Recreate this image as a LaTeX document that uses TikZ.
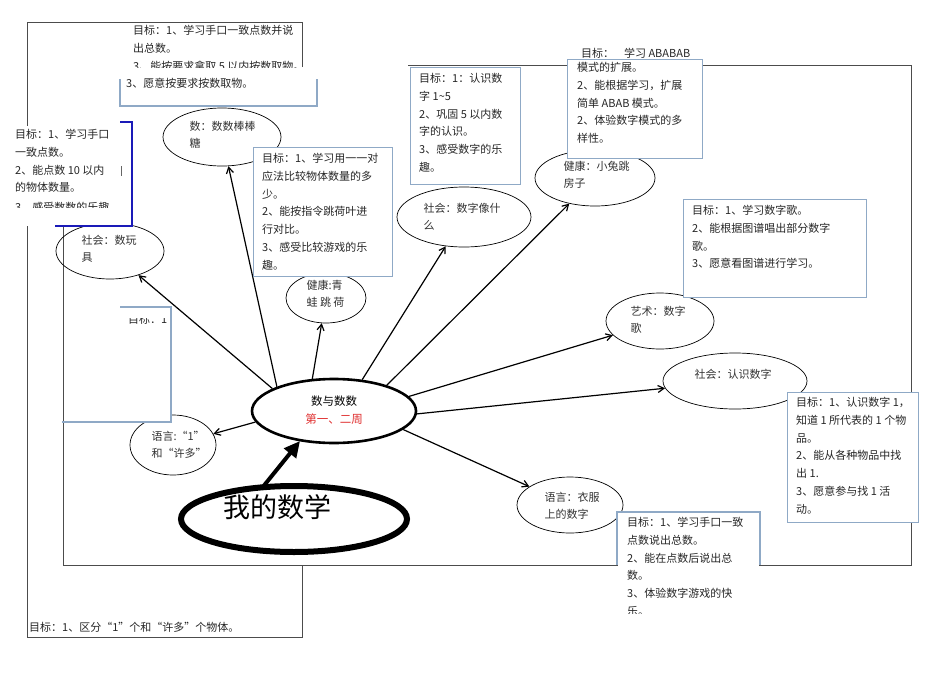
\documentclass[tikz,border=0pt]{standalone}
\usepackage{fontspec}
\setmainfont{Liberation Serif}
\newfontfamily\cjk{Noto Sans CJK SC}
\usetikzlibrary{arrows.meta,shapes.geometric}
\definecolor{bx}{HTML}{8FA9C6}
\definecolor{dkb}{HTML}{1A1AB8}
\definecolor{rd}{HTML}{E03030}
\tikzset{
 ell/.style={draw, ellipse, inner sep=0pt, line width=0.7pt},
 lab/.style={font=\cjk\fontsize{11}{17}\selectfont, align=left, text=black!80},
 goal/.style={draw=bx, fill=white, line width=1.2pt, rectangle, inner sep=0pt, anchor=north west},
 gt/.style={font=\cjk\fontsize{11}{17.8}\selectfont, align=left, anchor=north west, inner sep=0pt, text=black!85},
 arr/.style={-{Straight Barb[length=6pt,width=7pt]}, line width=1.2pt},
 frame/.style={draw=black!70, line width=0.8pt}
}
\begin{document}
\begin{tikzpicture}[x=1pt,y=-1pt]
\useasboundingbox (0,0) rectangle (950,672);
\fill[white] (0,0) rectangle (950,672);
% frames
\draw[frame] (302,67) -- (302,22) -- (27,22) -- (27,637) -- (302,637) -- (302,566);
\draw[frame] (63,227) -- (63,565) -- (911,565) -- (911,65) -- (408,65);
% ellipses
\node[ell, minimum width=118pt, minimum height=58pt] (shu) at (222,137) {};
\node[lab, anchor=north west] at (186,118) {数：数数棒棒\\糖};
\node[ell, minimum width=108pt, minimum height=56pt] (wanju) at (110,251) {};
\node[lab, anchor=north west] at (78,232) {社会：数玩\\具};
\node[ell, minimum width=80pt, minimum height=50pt] (qingwa) at (326,298) {};
\node[lab, anchor=north west] at (303,277) {健康:青\\蛙 跳 荷};
\node[ell, minimum width=134pt, minimum height=60pt] (xiang) at (464,217) {};
\node[lab, anchor=north west] at (420,200) {社会：数字像什\\么};
\node[ell, minimum width=120pt, minimum height=56pt] (tu) at (595,178) {};
\node[lab, anchor=north west] at (560,158) {健康：小兔跳\\房子};
\node[ell, minimum width=108pt, minimum height=56pt] (ge) at (660,321) {};
\node[lab, anchor=north west] at (627,303) {艺术：数字\\歌};
\node[ell, minimum width=144pt, minimum height=56pt] (renshi) at (735,381) {};
\node[lab, anchor=north west] at (691,366) {社会：认识数字};
\node[ell, minimum width=106pt, minimum height=56pt] (yifu) at (570,505) {};
\node[lab, anchor=north west] at (541,489) {语言：衣服\\上的数字};
\node[ell, minimum width=86pt, minimum height=60pt] (yi) at (173,445) {};
\node[lab, anchor=north west] at (148,428) {语言:“1”\\和“许多”};
\node[draw, ellipse, line width=2.6pt, minimum width=164pt, minimum height=64pt, inner sep=0pt] (c) at (334,411) {};
\node[font=\cjk\fontsize{11.5}{18}\selectfont, align=center] at (334,410) {数与数数\\\textcolor{rd}{第一、二周}};
\node[draw, ellipse, line width=6pt, minimum width=226pt, minimum height=66pt, inner sep=0pt] (my) at (294,519) {};
\node[font=\cjk\fontsize{27}{30}\selectfont] at (277,507) {我的数学};
% arrows
\draw[arr] (c.160) -- (wanju);
\draw[arr] (c.157) -- (shu);
\draw[arr] (c.124) -- (qingwa);
\draw[arr] (c.48) -- (xiang);
\draw[arr] (c.26) -- (tu);
\draw[arr] (c.11) -- (ge);
\draw[arr] (c.-2) -- (renshi);
\draw[arr] (c.-15) -- (yifu);
\draw[arr] (c.188) -- (yi);
\coordinate (ms) at (262,488);
\coordinate (me) at (300,441);
\draw[line width=4pt, -{Triangle[length=16pt,width=15pt]}] (ms) -- (me);
% top box
\node[gt] at (133,25) {目标：1、学习手口一致点数并说\\出总数。};
\begin{scope}
\clip (120,58) rectangle (320,67);
\node[gt] at (133,61) {3、能按要求拿取 5 以内按数取物。};
\end{scope}
\fill[white] (120,72) rectangle (317,106);
\draw[draw=bx, line width=1.2pt] (120,79) -- (120,106) -- (317,106) -- (317,79);
\node[gt] at (126,78) {3、愿意按要求按数取物。};
% left blue box
\fill[white] (0,126) rectangle (132,226);
\draw[dkb, line width=1.2pt] (120,122) -- (132,122) -- (132,226) -- (55,226);
\node[gt] at (15,129) {目标：1、学习手口\\一致点数。\\2、能点数 10 以内\\的物体数量。};
\begin{scope}
\clip (0,198) rectangle (130,207);
\node[gt] at (15,202) {3、感受数数的乐趣};
\end{scope}
\draw[black!60] (121,166) -- (121,176);
% small left box
\fill[white] (64,308) rectangle (170,421);
\draw[draw=bx, line width=1.2pt] (120,307) -- (171,307) -- (171,422) -- (62,422);
\begin{scope}
\clip (120,318) rectangle (170,324);
\node[gt] at (128,314) {目标：1};
\end{scope}
% box 3
\node[goal, minimum width=139pt, minimum height=129pt] (g3) at (253,147) {};
\node[gt] at (262,153) {目标：1、学习用一一对\\应法比较物体数量的多\\少。\\2、能按指令跳荷叶进\\行对比。\\3、感受比较游戏的乐\\趣。};
% box 4
\node[goal, minimum width=110pt, minimum height=117pt] (g4) at (410,67) {};
\node[gt] at (419,73) {目标：1：认识数\\字 1\textasciitilde5\\2、巩固 5 以内数\\字的认识。\\3、感受数字的乐\\趣。};
% box 5
\begin{scope}
\clip (560,40) rectangle (720,57);
\node[gt] at (581,48) {目标：\ \ \ \ 学习 ABABAB};
\end{scope}
\node[goal, minimum width=135pt, minimum height=99pt] (g5) at (567,59) {};
\node[gt] at (577,62) {模式的扩展。\\2、能根据学习，扩展\\简单 ABAB 模式。\\2、体验数字模式的多\\样性。};
% box 6
\node[goal, minimum width=183pt, minimum height=98pt] (g6) at (683,199) {};
\node[gt] at (692,205) {目标：1、学习数字歌。\\2、能根据图谱唱出部分数字\\歌。\\3、愿意看图谱进行学习。};
% box 7
\node[goal, minimum width=131pt, minimum height=130pt] (g7) at (787,392) {};
\node[gt] at (796,397) {目标：1、认识数字 1，\\知道 1 所代表的 1 个物\\品。\\2、能从各种物品中找\\出 1.\\3、愿意参与找 1 活\\动。};
% box 8
\fill[white] (618,513) rectangle (759,620);
\draw[draw=bx, line width=1.2pt] (617,565) -- (617,512) -- (760,512) -- (760,565);
\begin{scope}
\clip (617,500) rectangle (760,613);
\node[gt] at (627,517) {目标：1、学习手口一致\\点数说出总数。\\2、能在点数后说出总\\数。\\3、体验数字游戏的快\\乐。};
\end{scope}
% bottom text
\node[gt] at (29,622) {目标：1、区分“1”个和“许多”个物体。};
\end{tikzpicture}
\end{document}
